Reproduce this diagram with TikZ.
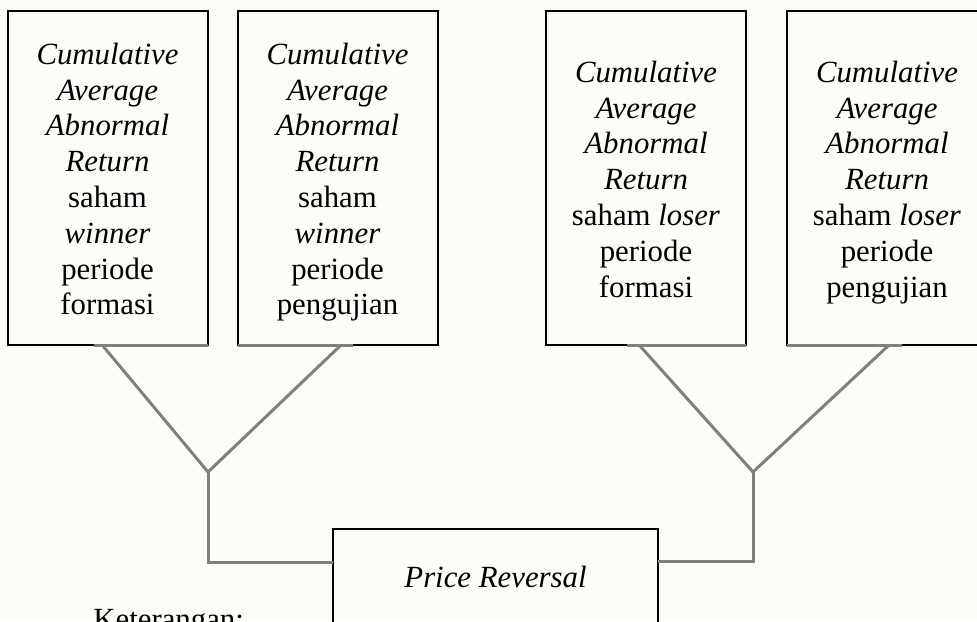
\documentclass[tikz,border=0pt]{standalone}
\usepackage{xcolor}
\usepackage{fontspec}
\setmainfont{Liberation Serif}
\usepackage{tikz}
\usetikzlibrary{calc}
\definecolor{paper}{RGB}{252,252,248}
\tikzset{font=\fontsize{15.4}{17.9}\selectfont}
\tikzset{box/.style={shape=rectangle, draw, line width=1pt, align=center,
    inner sep=0pt, outer sep=0pt, minimum width=100pt, minimum height=167pt}}
\tikzset{link/.style={draw=black!50, line width=1.5pt}}
\newcommand{\topgap}{\rule{0pt}{17pt}}

\begin{document}
\begin{tikzpicture}[x=0.5pt, y=-0.5pt]
      \fill[paper] (0,0) rectangle (977,621);
      \clip (0,0) rectangle (977,621);
      \node[box] (wf) at (107.5,178) {\topgap\textit{Cumulative}\\ \textit{Average}\\
        \textit{Abnormal}\\ \textit{Return}\\ saham\\ \textit{winner}\\ periode\\ formasi\strut};
      \node[box] (wp) at (337.5,178) {\topgap\textit{Cumulative}\\ \textit{Average}\\
        \textit{Abnormal}\\ \textit{Return}\\ saham\\ \textit{winner}\\ periode\\ pengujian\strut};
      \node[box] (lf) at (646,178) {\topgap\textit{Cumulative}\\ \textit{Average}\\
        \textit{Abnormal}\\ \textit{Return}\\ saham \textit{loser}\\ periode\\ formasi\strut};
      \node[box] (lp) at (887,178) {\topgap\textit{Cumulative}\\ \textit{Average}\\
        \textit{Abnormal}\\ \textit{Return}\\ saham \textit{loser}\\ periode\\ pengujian\strut};
      \node[box, minimum width=162.5pt, minimum height=48pt, anchor=north] (pr)
      at (495.5,529) {\textit{Price Reversal}};
      \node[anchor=base west, inner sep=0pt] (ket) at (93,629) {Keterangan:};
      %%%%%%%%% winner
      \coordinate (wl) at (103,346);
      \coordinate (wr) at (340,346);
      \coordinate (wj) at (208,472);
      \draw[link] (wf.south east) -- ++(-114,0);
      \draw[link] (wp.south west) -- ++(115,0);
      \draw[link] (wl) -- (wj) -- (wr);
      \draw[link] (wj) |- ([yshift=-16.5pt]pr.north west);
      %%%%%%%%% loser
      \coordinate (ll) at (640,346);
      \coordinate (lr) at (888,346);
      \coordinate (lj) at (753,472);
      \draw[link] (lf.south east) -- ++(-119,0);
      \draw[link] (lp.south west) -- ++(115,0);
      \draw[link] (ll) -- (lj) -- (lr);
      \draw[link] (lj) |- ([yshift=-16pt]pr.north east);
\end{tikzpicture}
\end{document}
